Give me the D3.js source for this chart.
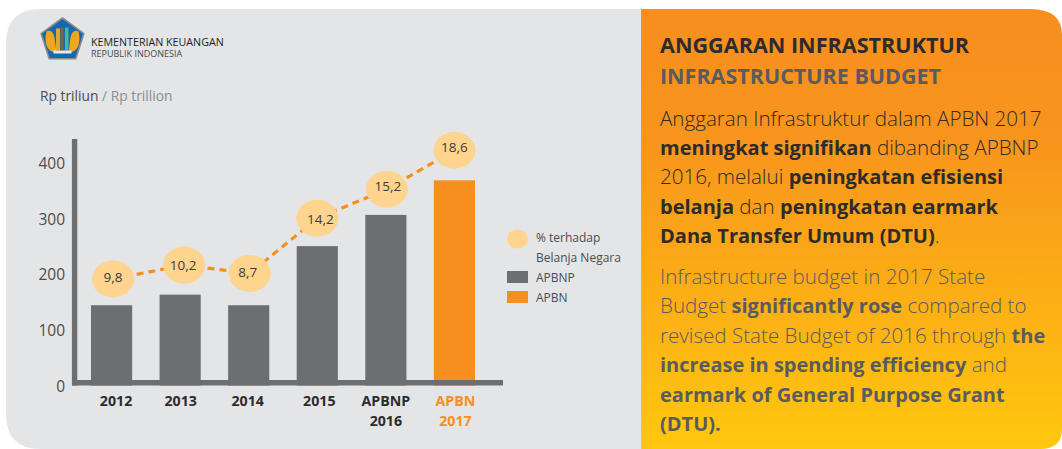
<!DOCTYPE html>
<html>
<head>
<meta charset="utf-8">
<script src="https://cdn.jsdelivr.net/npm/d3@7"></script>
<style>
html, body { margin: 0; padding: 0; background: #fff; }
svg { display: block; }
text { font-family: "Open Sans", "Noto Sans", sans-serif; }
</style>
</head>
<body>
<svg id="chart" width="1062" height="449"></svg>
<script>
const width = 1062;
const height = 449;

const categories = ['2012', '2013', '2014', '2015', 'APBNP 2016', 'APBN 2017'];
const budget = [144, 163, 144, 250, 306, 368];
const budgetType = ['APBNP', 'APBNP', 'APBNP', 'APBNP', 'APBNP', 'APBN'];
const shareLabels = ['9,8', '10,2', '8,7', '14,2', '15,2', '18,6'];
// bubbles are placed by hand in the original, read here in axis units
const shareLevel = [191, 216, 201, 300, 352, 422];
const yTicks = [0, 100, 200, 300, 400];

const legendItems = ['APBNP', 'APBN'];
const legendBubble = ['% terhadap', 'Belanja Negara'];

const titleId = 'ANGGARAN INFRASTRUKTUR';
const titleEn = 'INFRASTRUCTURE BUDGET';
const bodyId = [
    [['Anggaran Infrastruktur dalam APBN 2017', 0]],
    [['meningkat signifikan', 1], [' dibanding APBNP', 0]],
    [['2016, melalui ', 0], ['peningkatan efisiensi', 1]],
    [['belanja', 1], [' dan ', 0], ['peningkatan earmark', 1]],
    [['Dana Transfer Umum (DTU)', 1], ['.', 0]]
];
const bodyEn = [
    [['Infrastructure budget in 2017 State', 0]],
    [['Budget ', 0], ['significantly rose', 1], [' compared to', 0]],
    [['revised State Budget of 2016 through ', 0], ['the', 1]],
    [['increase in spending efficiency', 1], [' and', 0]],
    [['earmark of General Purpose Grant', 1]],
    [['(DTU).', 1]]
];

const gray = '#6d6e71';
const orange = '#f78e1e';
const bubble = '#fed48f';
const dark = '#2d2c2b';
const soft = '#5a5b5e';

// the original is hand laid out, these small shifts follow it
const bubbleShift = [1.5, 4, 1, 0, 1, 0];
const shareTextShift = [0, -1, -2, 3, 1, 0];
const shareTextLift = [-2, 0, -1, 1, -3, -3];
const labelShift = [4.5, 0.5, -1, 2, 0, 1];

const svg = d3.select('#chart');
const defs = svg.append('defs');

const grad = defs.append('linearGradient')
    .attr('id', 'panelFill')
    .attr('x1', 0).attr('y1', 0).attr('x2', 0).attr('y2', 1);
grad.append('stop').attr('offset', '0%').attr('stop-color', '#f78e1f');
grad.append('stop').attr('offset', '30%').attr('stop-color', '#f8951d');
grad.append('stop').attr('offset', '100%').attr('stop-color', '#ffc70e');

// panels
const panelTop = 9;
const panelBottom = 449;
svg.append('path')
    .attr('fill', '#e4e5e7')
    .attr('d', `M641,${panelTop}H41Q6,${panelTop} 6,${panelTop + 35}V${panelBottom - 35}Q6,${panelBottom} 41,${panelBottom}H641Z`);
svg.append('path')
    .attr('fill', 'url(#panelFill)')
    .attr('d', `M641,${panelTop}H1030Q1062,${panelTop} 1062,${panelTop + 26}V${panelBottom - 20}Q1062,${panelBottom} 1040,${panelBottom}H641Z`);

// logo
const logo = svg.append('g').attr('transform', 'translate(62.5,40.5)');
const pentagon = r => d3.range(5).map(i => {
    const a = -Math.PI / 2 + i * 2 * Math.PI / 5;
    return [r * Math.cos(a), r * Math.sin(a)];
});
logo.append('polygon').attr('points', pentagon(22.5).join(' ')).attr('fill', '#1467b0')
    .attr('stroke', '#8a8c8e').attr('stroke-width', 1.6).attr('stroke-linejoin', 'round');
logo.append('path').attr('fill', '#f2a71b')
    .attr('d', 'M-6,12C-15,12 -19,3 -16,-9C-12,-11 -9,-8 -8,-3Z');
logo.append('path').attr('fill', '#f2a71b')
    .attr('d', 'M6,12C15,12 19,3 16,-9C12,-11 9,-8 8,-3Z');
logo.append('rect').attr('x', -6.5).attr('y', -12).attr('width', 4).attr('height', 22).attr('fill', '#d8a936');
logo.append('rect').attr('x', -2).attr('y', -13).attr('width', 3).attr('height', 23).attr('fill', '#7a6640');
logo.append('rect').attr('x', 2.5).attr('y', -13).attr('width', 3.5).attr('height', 23).attr('fill', '#4db69a');
logo.append('rect').attr('x', -9).attr('y', 10).attr('width', 18).attr('height', 3).attr('fill', '#e8e8e8');

svg.append('text').attr('x', 91).attr('y', 45.5)
    .attr('font-size', 10.7).attr('fill', '#1d1d1b').text('KEMENTERIAN KEUANGAN');
svg.append('text').attr('x', 91).attr('y', 57)
    .attr('font-size', 9).attr('fill', '#4a4a4a').text('REPUBLIK INDONESIA');

const unit = svg.append('text').attr('x', 40).attr('y', 101).attr('font-size', 13.8);
unit.append('tspan').attr('fill', '#4b4c4e').text('Rp triliun');
unit.append('tspan').attr('fill', '#8b8c8e').text(' / Rp trillion');

// scales
const x = d3.scaleBand().domain(categories).range([91, 475]).paddingInner(0.4);
const y = d3.scaleLinear().domain([0, 400]).range([385.5, 162.5]);

// bars
svg.selectAll('.bar').data(categories).enter().append('rect')
    .attr('class', 'bar')
    .attr('x', d => x(d))
    .attr('width', x.bandwidth())
    .attr('y', (d, i) => y(budget[i]))
    .attr('height', (d, i) => y(0) - y(budget[i]))
    .attr('fill', (d, i) => budgetType[i] === 'APBN' ? orange : gray);

// axes
svg.append('line').attr('x1', 74.6).attr('x2', 74.6).attr('y1', 139).attr('y2', 385.5)
    .attr('stroke', gray).attr('stroke-width', 5.4);
svg.append('line').attr('x1', 72).attr('x2', 503).attr('y1', 382.8).attr('y2', 382.8)
    .attr('stroke', gray).attr('stroke-width', 5.4);

const yAxis = svg.append('g')
    .attr('transform', 'translate(65,0.8)')
    .call(d3.axisLeft(y).tickValues(yTicks).tickSize(0).tickPadding(0));
yAxis.select('.domain').remove();
yAxis.selectAll('text').attr('font-size', 15.5).attr('fill', '#4b4c4e')
    .style('font-family', '"Open Sans", sans-serif');

// x labels wrap on two lines
const xLabels = svg.selectAll('.xlabel').data(categories).enter().append('text')
    .attr('class', 'xlabel')
    .attr('text-anchor', 'middle')
    .attr('font-size', 14.2)
    .attr('font-weight', 700)
    .attr('fill', (d, i) => budgetType[i] === 'APBN' ? orange : dark);
xLabels.selectAll('tspan').data((d, n) => d.split(' ').map(t => [d, t, n])).enter().append('tspan')
    .attr('x', d => x(d[0]) + x.bandwidth() / 2 + labelShift[d[2]])
    .attr('y', (d, i) => 406 + i * 20)
    .text(d => d[1]);

// dashed share line + bubbles
const bubbleX = (d, i) => x(d) + x.bandwidth() / 2 + bubbleShift[i];
const shareLine = d3.line().x(bubbleX).y((d, i) => y(shareLevel[i]));
svg.append('path')
    .attr('d', shareLine(categories))
    .attr('fill', 'none')
    .attr('stroke', orange)
    .attr('stroke-width', 3.2)
    .attr('stroke-dasharray', '7 5');

svg.selectAll('.bubble').data(categories).enter().append('ellipse')
    .attr('class', 'bubble')
    .attr('cx', bubbleX)
    .attr('cy', (d, i) => y(shareLevel[i]))
    .attr('rx', 21)
    .attr('ry', 18.5)
    .attr('fill', bubble);

svg.selectAll('.share').data(categories).enter().append('text')
    .attr('class', 'share')
    .attr('x', (d, i) => bubbleX(d, i) + shareTextShift[i])
    .attr('y', (d, i) => y(shareLevel[i]) + 5 + shareTextLift[i])
    .attr('text-anchor', 'middle')
    .attr('font-size', 13.5)
    .attr('fill', '#3c3c3b')
    .text((d, i) => shareLabels[i]);

// legend
svg.append('ellipse').attr('cx', 517.5).attr('cy', 239).attr('rx', 10.5).attr('ry', 9.5).attr('fill', bubble);
svg.selectAll('.legend-bubble').data(legendBubble).enter().append('text')
    .attr('class', 'legend-bubble')
    .attr('x', 536).attr('y', (d, i) => 242 + i * 20)
    .attr('font-size', 12).attr('fill', '#4b4c4e')
    .text(d => d);
svg.selectAll('.legend-box').data(legendItems).enter().append('rect')
    .attr('class', 'legend-box')
    .attr('x', 507).attr('y', (d, i) => 271 + i * 20)
    .attr('width', 21).attr('height', 12)
    .attr('fill', d => d === 'APBN' ? orange : gray);
svg.selectAll('.legend-text').data(legendItems).enter().append('text')
    .attr('class', 'legend-text')
    .attr('x', 536).attr('y', (d, i) => 282 + i * 20)
    .attr('font-size', 12).attr('fill', '#4b4c4e')
    .text(d => d);

// right panel text
svg.append('text').attr('x', 660).attr('y', 53)
    .attr('font-size', 21.6).attr('font-weight', 700).attr('fill', dark).text(titleId);
svg.append('text').attr('x', 660).attr('y', 83.5)
    .attr('font-size', 21.5).attr('font-weight', 700).attr('fill', soft).text(titleEn);

function writeLines(lines, top, color) {
    lines.forEach((line, i) => {
        const t = svg.append('text')
            .attr('x', 660)
            .attr('y', top + i * 29.4)
            .attr('fill', color);
        line.forEach(part => {
            t.append('tspan')
                .attr('font-size', part[1] ? 20 : 20.6)
                .attr('font-weight', part[1] ? 700 : 300)
                .style('white-space', 'pre')
                .text(part[0]);
        });
    });
}
writeLines(bodyId, 125.5, dark);
writeLines(bodyEn, 284, soft);
</script>
</body>
</html>
